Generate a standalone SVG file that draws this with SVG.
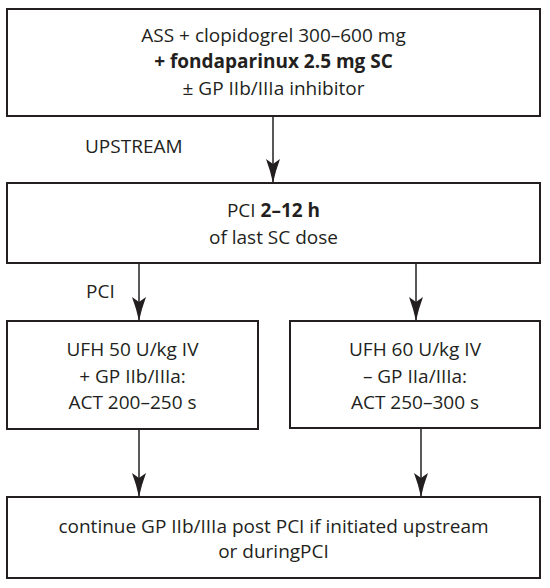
<svg xmlns="http://www.w3.org/2000/svg" width="550" height="588" viewBox="0 0 550 588">
<style>
.box{fill:#fff;stroke:#231f20;stroke-width:2}
.t{font-family:"Open Sans","Noto Sans","DejaVu Sans",sans-serif;font-size:19px;fill:#231f20;text-anchor:middle}
.b{font-weight:bold}
.lbl{text-anchor:start}
.c{stroke:#231f20;stroke-width:1.5;fill:none;marker-end:url(#ah)}
</style>
<defs>
<marker id="ah" markerUnits="userSpaceOnUse" viewBox="-25 -8 26 16" refX="0" refY="0" markerWidth="26" markerHeight="16" orient="auto">
<path d="M0,0 Q-12,-2.5 -24,-7 L-19,0 L-24,7 Q-12,2.5 0,0 Z" fill="#231f20"/>
</marker>
</defs>
<rect width="550" height="588" fill="#fff"/>
<g id="connectors">
<line class="c" x1="273" y1="116" x2="273" y2="183"/>
<line class="c" x1="139" y1="263" x2="139" y2="321"/>
<line class="c" x1="416" y1="263" x2="416" y2="321"/>
<line class="c" x1="139" y1="429" x2="139" y2="497"/>
<line class="c" x1="421" y1="429" x2="421" y2="497"/>
<text class="t lbl" x="85" y="153">UPSTREAM</text>
<text class="t lbl" x="86" y="298">PCI</text>
</g>
<g id="n1">
<rect class="box" x="7" y="9" width="533" height="107"/>
<text class="t" x="273.5" y="42">ASS + clopidogrel 300–600 mg</text>
<text class="t b" x="273.5" y="68">+ fondaparinux 2.5 mg SC</text>
<text class="t" x="273.5" y="95">± GP IIb/IIIa inhibitor</text>
</g>
<g id="n2">
<rect class="box" x="7" y="183" width="533" height="80"/>
<text class="t" x="273.5" y="217">PCI <tspan class="b">2–12 h</tspan></text>
<text class="t" x="273.5" y="244">of last SC dose</text>
</g>
<g id="n3">
<rect class="box" x="7" y="321" width="251" height="108"/>
<text class="t" x="132.5" y="356">UFH 50 U/kg IV</text>
<text class="t" x="132.5" y="383">+ GP IIb/IIIa:</text>
<text class="t" x="132.5" y="409">ACT 200–250 s</text>
</g>
<g id="n4">
<rect class="box" x="290" y="321" width="250" height="107"/>
<text class="t" x="415" y="356">UFH 60 U/kg IV</text>
<text class="t" x="415" y="383">– GP IIa/IIIa:</text>
<text class="t" x="415" y="409">ACT 250–300 s</text>
</g>
<g id="n5">
<rect class="box" x="7" y="497" width="533" height="81"/>
<text class="t" x="273.5" y="533">continue GP IIb/IIIa post PCI if initiated upstream</text>
<text class="t" x="273.5" y="558">or duringPCI</text>
</g>
</svg>
